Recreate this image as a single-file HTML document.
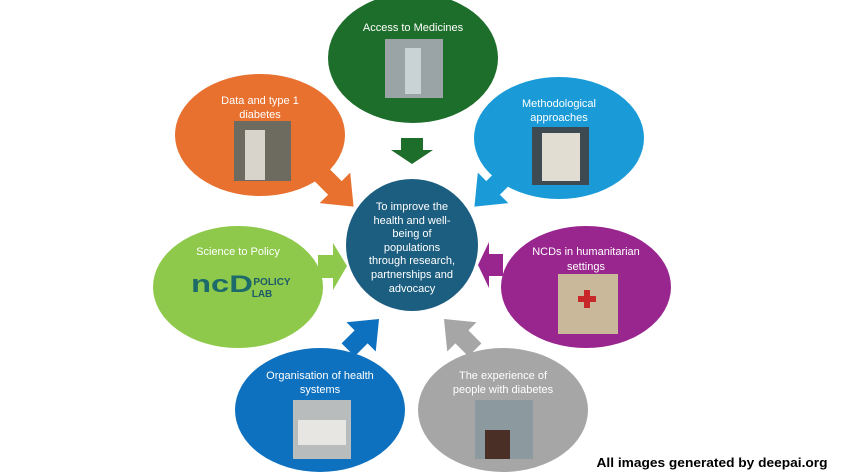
<!DOCTYPE html>
<html><head><meta charset="utf-8"><style>
html,body{margin:0;padding:0;background:#fff;}
svg{display:block;}
text{font-family:"Liberation Sans",sans-serif;fill:#fff;font-size:11px;text-anchor:middle;}
</style></head><body>
<svg width="842" height="474" viewBox="0 0 842 474">
<ellipse cx="413" cy="58" rx="85" ry="65" fill="#1e6e2b"/>
<ellipse cx="260" cy="135" rx="85" ry="61" fill="#e8712f"/>
<ellipse cx="559" cy="138" rx="85" ry="61" fill="#1a9bd7"/>
<ellipse cx="238" cy="287" rx="85" ry="61" fill="#8ec94b"/>
<ellipse cx="586" cy="287" rx="85" ry="61" fill="#99268f"/>
<ellipse cx="320" cy="410" rx="85" ry="62" fill="#0e71bf"/>
<ellipse cx="503" cy="410" rx="85" ry="62" fill="#a6a6a6"/>
<circle cx="412" cy="245" r="66" fill="#1c5e80"/>
<polygon points="401,138 423,138 423,150 433,150 412,164 391,150 401,150" fill="#1e6e2b"/>
<g transform="translate(340,193) rotate(45) scale(1.2)"><polygon points="-8,-22 8,-22 8,-6 18,-6 0,16 -18,-6 -8,-6" fill="#e8712f" transform="rotate(-90)"/></g>
<g transform="translate(488,193) rotate(135) scale(1.2)"><polygon points="-8,-22 8,-22 8,-6 18,-6 0,16 -18,-6 -8,-6" fill="#1a9bd7" transform="rotate(-90)"/></g>
<polygon points="318,255 333,255 333,243 347,266 333,290 333,278 318,278" fill="#8ec94b"/>
<polygon points="503,254 489,254 489,242 478,265 489,288 489,276 503,276" fill="#99268f"/>
<g transform="translate(366,332) rotate(-45) scale(1.15)"><polygon points="-8,-22 8,-22 8,-6 18,-6 0,16 -18,-6 -8,-6" fill="#0e71bf" transform="rotate(-90)"/></g>
<g transform="translate(457,332) rotate(-135) scale(1.15)"><polygon points="-8,-22 8,-22 8,-6 18,-6 0,16 -18,-6 -8,-6" fill="#a6a6a6" transform="rotate(-90)"/></g>
<rect x="385" y="39" width="58" height="59" fill="#9aa3a6"/><rect x="405" y="48" width="16" height="46" fill="#c9d2d4"/>
<rect x="234" y="121" width="57" height="60" fill="#6d6a5f"/><rect x="245" y="130" width="20" height="50" fill="#d8d4cc"/>
<rect x="532" y="127" width="57" height="58" fill="#3e4a52"/><rect x="542" y="133" width="38" height="48" fill="#e2ddd2"/>
<rect x="558" y="274" width="60" height="60" fill="#c9b99a"/><rect x="584" y="290" width="6" height="18" fill="#c8282a"/><rect x="578" y="296" width="18" height="6" fill="#c8282a"/>
<rect x="293" y="400" width="58" height="59" fill="#b9bcbd"/><rect x="298" y="420" width="48" height="25" fill="#e8e6e2"/>
<rect x="475" y="400" width="58" height="59" fill="#8c9aa0"/><rect x="485" y="430" width="25" height="29" fill="#4a2f26"/>
<text x="222" y="292" style="font-size:24px;font-weight:bold;fill:#1c6a6a;" textLength="62" lengthAdjust="spacingAndGlyphs">ncD</text>
<text x="272" y="285" style="font-size:10px;font-weight:bold;fill:#1c5a6a;">POLICY</text>
<text x="262" y="297" style="font-size:10px;font-weight:bold;fill:#1c5a6a;">LAB</text>
<text x="413" y="31">Access to Medicines</text>
<text x="260" y="104">Data and type 1</text><text x="260" y="118">diabetes</text>
<text x="559" y="107">Methodological</text><text x="559" y="121">approaches</text>
<text x="238" y="255">Science to Policy</text>
<text x="586" y="255">NCDs in humanitarian</text><text x="586" y="270">settings</text>
<text x="320" y="379">Organisation of health</text><text x="320" y="393">systems</text>
<text x="503" y="379">The experience of</text><text x="503" y="393">people with diabetes</text>
<text x="412" y="210">To improve the</text>
<text x="412" y="224">health and well-</text>
<text x="412" y="237">being of</text>
<text x="412" y="251">populations</text>
<text x="412" y="264">through research,</text>
<text x="412" y="278">partnerships and</text>
<text x="412" y="292">advocacy</text>
<text x="712" y="467" style="fill:#000;font-weight:bold;font-size:13px;" textLength="231" lengthAdjust="spacingAndGlyphs">All images generated by deepai.org</text>
</svg>
</body></html>
